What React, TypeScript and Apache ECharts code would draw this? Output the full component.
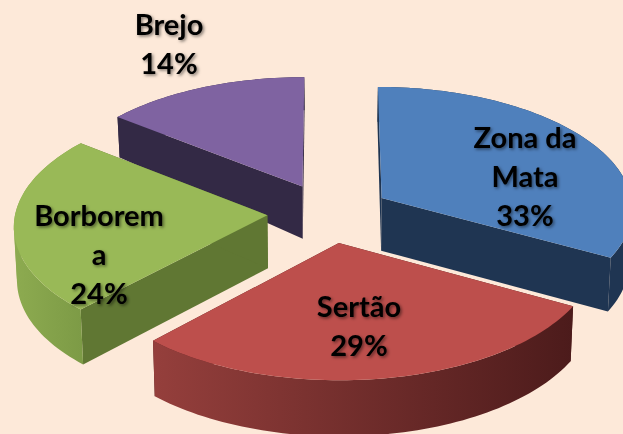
import React, { useEffect, useRef } from "react";
import * as echarts from "echarts";

const regions = ["Zona da Mata", "Sertão", "Borborema", "Brejo"];
const labelLines = [["Zona da", "Mata"], ["Sertão"], ["Borborem", "a"], ["Brejo"]];
const shares = [33, 29, 23.6, 14.4];

// Styling and layout (not data)
const topColors = ["#4f80bc", "#bd4f4c", "#99b957", "#7f63a1"];
const wallColors = ["#1f3552", "#4d1c1c", "#607733", "#332945"];
const rimFrom = ["#1f3552", "#953f3c", "#8dab50", "#332945"];
const rimTo = ["#1f3552", "#4c1b1b", "#7d9b46", "#332945"];
const paintOrder = [2, 4, 3, 1];
const labelAnchor = [[525, 136], [359, 305], [99, 214], [169, 23]];

const CX = 329, CY = 213, AX = 252, BY = 121.8, P = 0.077, EXPLODE = 0.245;
const LINE_H = 39;

const project = (X: number, Y: number) => {
  const w = 1 - P * Y;
  return [CX + (AX * X) / w, CY + (BY * Y) / w];
};
const depthAt = (Y: number) =>
  Y > -0.2 ? 53 + 2.5 * Y : 52.5 + (Y + 0.2) * 19;

export default function App() {
  const ref = useRef<HTMLDivElement>(null);
  useEffect(() => {
    document.body.style.margin = "0";
    document.body.style.overflow = "hidden";
    const chart = echarts.init(ref.current!, null, { renderer: "svg" });
    const total = shares.reduce((a, b) => a + b, 0);

    const renderItem = (params: any, api: any) => {
      const i = params.dataIndex;
      const value = api.value(0);
      let before = 0;
      for (let k = 0; k < i; k++) before += shares[k];
      const a0 = (before / total) * Math.PI * 2;
      const a1 = ((before + value) / total) * Math.PI * 2;
      const mid = (a0 + a1) / 2;
      const ox = Math.sin(mid) * EXPLODE;
      const oy = -Math.cos(mid) * EXPLODE;

      const rimModel: number[][] = [];
      const steps = Math.ceil((a1 - a0) / (Math.PI / 120));
      for (let s = 0; s <= steps; s++) {
        const a = a0 + ((a1 - a0) * s) / steps;
        rimModel.push([ox + Math.sin(a), oy - Math.cos(a)]);
      }
      const up = (m: number[]) => project(m[0], m[1]);
      const down = (m: number[]) => {
        const p = project(m[0], m[1]);
        return [CX + (p[0] - CX) * 0.99, p[1] + depthAt(m[1])];
      };
      const apexM = [ox, oy];
      const first = rimModel[0];
      const last = rimModel[rimModel.length - 1];
      const base = paintOrder[i] * 10;
      const wall = (m: number[]) => ({
        type: "polygon",
        z2: base,
        shape: { points: [up(apexM), up(m), down(m), down(apexM)] },
        style: { fill: wallColors[i] },
      });

      // The rim is cut at the arc's left and right extremes, where its upper
      // and lower edges cross, so that its outline stays whole.
      const xs = rimModel.map((m) => up(m)[0]);
      const xMin = Math.min(...xs);
      const xMax = Math.max(...xs);
      const cuts = Array.from(
        new Set([0, xs.indexOf(xMin), xs.indexOf(xMax), rimModel.length - 1])
      ).sort((a, b) => a - b);
      const rimFill = new echarts.graphic.LinearGradient(
        xMin, 0, xMax, 0,
        [
          { offset: 0, color: rimFrom[i] },
          { offset: 1, color: rimTo[i] },
        ],
        true
      );
      const rimParts: any[] = [];
      for (let c = 0; c + 1 < cuts.length; c++) {
        const part = rimModel.slice(Math.max(0, cuts[c] - 1), cuts[c + 1] + 1);
        rimParts.push({
          type: "polygon",
          z2: base + 1,
          shape: { points: part.map(up).concat(part.slice().reverse().map(down)) },
          style: { fill: rimFill },
        });
      }

      const children: any[] = [
        wall(first),
        wall(last),
        ...rimParts,
        {
          type: "polygon",
          z2: base + 2,
          shape: { points: [up(apexM)].concat(rimModel.map(up)) },
          style: { fill: topColors[i] },
        },
      ];
      const lines = labelLines[i].concat(`${Math.round(value)}%`);
      lines.forEach((t, n) => {
        children.push({
          type: "text",
          z2: 200,
          style: {
            x: labelAnchor[i][0],
            y: labelAnchor[i][1] + n * LINE_H,
            text: t,
            align: "center",
            verticalAlign: "middle",
            fill: "#000000",
            font: "bold 29px Lato",
            textShadowColor: "rgba(0,0,0,0.5)",
            textShadowBlur: 3,
            textShadowOffsetX: 1.5,
            textShadowOffsetY: 1.5,
          },
        });
      });
      return { type: "group", children };
    };

    chart.setOption({
      animation: false,
      backgroundColor: "#fde9d9",
      series: [
        {
          type: "custom",
          coordinateSystem: "none",
          silent: true,
          clip: false,
          renderItem,
          data: shares.map((v, i) => ({ name: regions[i], value: [v] })),
        },
      ],
    });
    return () => chart.dispose();
  }, []);
  return <div ref={ref} style={{ width: 623, height: 434 }} />;
}
